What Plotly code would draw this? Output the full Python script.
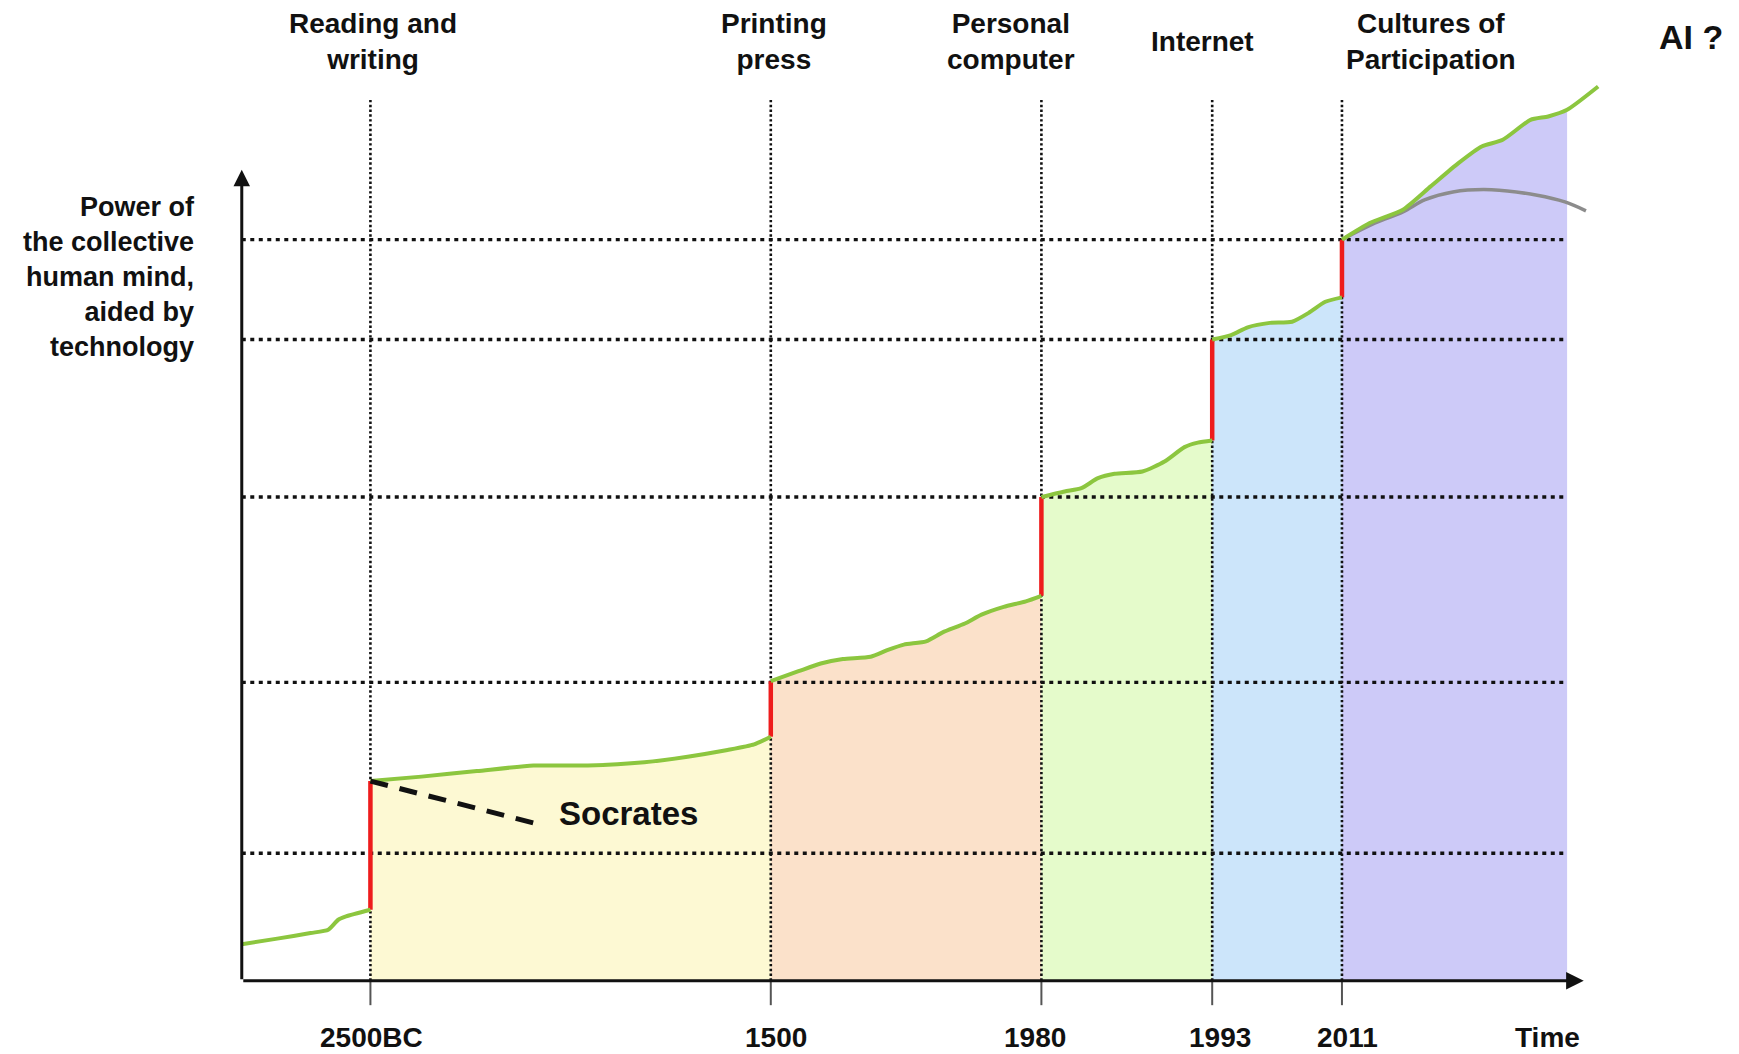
import plotly.graph_objects as go

# ---------------- data ----------------
# era boundaries on an abstract time-position scale
era_labels = ["Reading and<br>writing", "Printing<br>press", "Personal<br>computer",
              "Internet", "Cultures of<br>Participation"]
era_years = ["2500BC", "1500", "1980", "1993", "2011"]
era_x = [11.6, 47.7, 72.1, 87.5, 99.2]
fill_end_x = 119.5
era_colors = ["#FDF9D3", "#FBE1CA", "#E5FBCB", "#CCE5FA", "#CDCAF8"]

# dotted horizontal reference levels of "power"
power_levels = [11.5, 26.9, 43.6, 57.8, 66.8]

# green curve, one segment per era (segment 0 = before writing)
seg_x = [
    [0, 3.2, 6.2, 7.8, 8.7, 9.4, 11.6],
    [11.6, 16.2, 21.2, 26.3, 31.2, 36.3, 40.2, 43.8, 46.2, 47.7],
    [47.7, 50.2, 52.2, 54.2, 56.7, 58.2, 59.7, 61.7, 63.2, 65.2, 66.7, 68.7, 70.7, 72.1],
    [72.1, 74.2, 75.7, 77.2, 78.7, 81.2, 83.2, 85.0, 86.2, 87.5],
    [87.5, 89.2, 90.7, 92.7, 94.7, 96.2, 97.7, 99.2],
    [99.2, 101.7, 104.7, 107.2, 109.7, 111.8, 113.7, 116.2, 117.8, 119.5, 122.3],
]
seg_y = [
    [3.3, 3.8, 4.3, 4.6, 5.5, 5.8, 6.4],
    [18.0, 18.4, 18.9, 19.4, 19.4, 19.7, 20.2, 20.8, 21.3, 22.0],
    [27.0, 27.9, 28.6, 29.0, 29.2, 29.8, 30.3, 30.6, 31.4, 32.2, 33.0, 33.7, 34.2, 34.7],
    [43.6, 44.1, 44.4, 45.3, 45.7, 45.9, 46.8, 48.1, 48.5, 48.7],
    [57.8, 58.2, 58.9, 59.3, 59.4, 60.2, 61.2, 61.6],
    [66.8, 68.3, 69.5, 71.6, 73.7, 75.2, 75.8, 77.6, 77.9, 78.5, 80.6],
]

# alternative (AI?) trajectory
alt_x = [99.2, 102.2, 104.7, 106.7, 109.2, 112.7, 116.8, 119.3, 121.2]
alt_y = [66.8, 68.3, 69.3, 70.4, 71.1, 71.3, 70.8, 70.2, 69.4]

# Socrates remark
socrates_x = [11.6, 27.2]
socrates_y = [18.0, 14.0]

axis_x_end = 121.0
axis_y_end = 73.1
vline_top = 79.6

FONT = "Liberation Sans, Arial, Helvetica, sans-serif"

fig = go.Figure()

# era fills
for i, c in enumerate(era_colors):
    xs = [x for x in seg_x[i + 1] if x <= fill_end_x]
    ys = seg_y[i + 1][:len(xs)]
    fig.add_trace(go.Scatter(x=xs, y=ys, mode="lines", fill="tozeroy", line_shape="spline",
                             fillcolor=c, line=dict(width=0, smoothing=0.6), hoverinfo="skip"))

# dotted grid lines
for lv in power_levels:
    fig.add_trace(go.Scatter(x=[0, fill_end_x], y=[lv, lv], mode="lines",
                             line=dict(color="#111111", width=3.4, dash="4px,4.5px"),
                             hoverinfo="skip"))
for bx in era_x:
    fig.add_trace(go.Scatter(x=[bx, bx], y=[0, vline_top], mode="lines",
                             line=dict(color="#111111", width=2.6, dash="2.4px,2.4px"),
                             hoverinfo="skip"))
    # tick mark below axis
    fig.add_trace(go.Scatter(x=[bx, bx], y=[0, -2.2], mode="lines",
                             line=dict(color="#555555", width=2), hoverinfo="skip"))

# alternative trajectory (gray)
fig.add_trace(go.Scatter(x=alt_x, y=alt_y, mode="lines", line_shape="spline",
                         line=dict(color="#8c8c8c", width=3.5), hoverinfo="skip"))

# red jumps
for i, bx in enumerate(era_x):
    fig.add_trace(go.Scatter(x=[bx, bx], y=[seg_y[i][-1], seg_y[i + 1][0]], mode="lines",
                             line=dict(color="#EE1C1C", width=4.5), hoverinfo="skip"))

# green curve
for xs, ys in zip(seg_x, seg_y):
    fig.add_trace(go.Scatter(x=xs, y=ys, mode="lines", line_shape="spline",
                             line=dict(color="#8CC63F", width=4, smoothing=0.6),
                             hoverinfo="skip"))

# Socrates dashed line
fig.add_trace(go.Scatter(x=socrates_x, y=socrates_y, mode="lines",
                         line=dict(color="#111111", width=5, dash="18px,12px"),
                         hoverinfo="skip"))

annotations = []
# axes arrows
annotations.append(dict(x=axis_x_end, y=0, ax=0, ay=0, xref="x", yref="y",
                        axref="x", ayref="y", text="", showarrow=True,
                        arrowhead=2, arrowsize=1.1, arrowwidth=3.2, arrowcolor="#111111"))
annotations.append(dict(x=0, y=axis_y_end, ax=0, ay=0, xref="x", yref="y",
                        axref="x", ayref="y", text="", showarrow=True,
                        arrowhead=2, arrowsize=1.1, arrowwidth=3, arrowcolor="#111111"))

# top era labels
label_x = [11.8, 48.0, 69.4, 86.6, 107.2]
for lx, lab in zip(label_x, era_labels):
    annotations.append(dict(x=lx, y=84.7, xref="x", yref="y", text=f"<b>{lab}</b>",
                            showarrow=False, font=dict(family=FONT, size=28, color="#111111"),
                            align="center", yanchor="middle"))
annotations.append(dict(x=130.7, y=85.1, xref="x", yref="y", text="<b>AI ?</b>",
                        showarrow=False, font=dict(family=FONT, size=34, color="#111111")))

# bottom labels
year_label_x = [11.7, 48.2, 71.5, 88.2, 99.7]
for yx, yl in zip(year_label_x, era_years):
    annotations.append(dict(x=yx, y=-5.1, xref="x", yref="y", text=f"<b>{yl}</b>",
                            showarrow=False, font=dict(family=FONT, size=28, color="#111111")))
annotations.append(dict(x=117.7, y=-5.1, xref="x", yref="y", text="<b>Time</b>",
                        showarrow=False, font=dict(family=FONT, size=28, color="#111111")))

# y title
annotations.append(dict(x=-4.0, y=63.4, xref="x", yref="y",
                        text="<b>Power of<br>the collective<br>human mind,<br>aided by<br>technology</b>",
                        showarrow=False, xanchor="right", align="right",
                        font=dict(family=FONT, size=27, color="#111111")))

# Socrates label
annotations.append(dict(x=34.9, y=15.1, xref="x", yref="y", text="<b>Socrates</b>",
                        showarrow=False, font=dict(family=FONT, size=33, color="#111111")))

fig.update_layout(
    width=1739, height=1054,
    margin=dict(l=0, r=0, t=0, b=0),
    paper_bgcolor="white", plot_bgcolor="white",
    showlegend=False,
    xaxis=dict(range=[-21.8, 135.0], visible=False, fixedrange=True),
    yaxis=dict(range=[-6.6, 88.4], visible=False, fixedrange=True),
    annotations=annotations,
)

fig.write_html("out.html", config={"displayModeBar": False},
               post_script="document.body.style.margin='0';document.body.style.overflow='hidden';")
